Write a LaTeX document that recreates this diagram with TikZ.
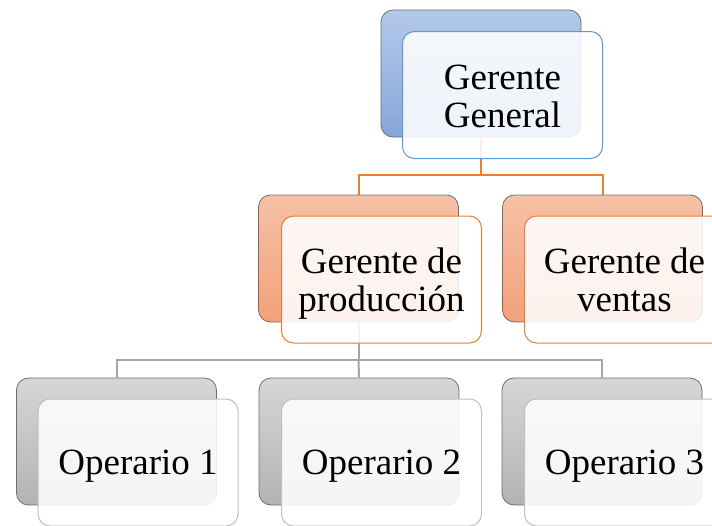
\documentclass[tikz,border=0pt]{standalone}
\usepackage{fontspec}
\setmainfont{Liberation Serif}
\definecolor{blueTop}{HTML}{B3C9EA}
\definecolor{blueBot}{HTML}{86A6DA}
\definecolor{blueLine}{HTML}{5B9BD5}
\definecolor{orTop}{HTML}{F6C1A6}
\definecolor{orBot}{HTML}{F2A07A}
\definecolor{orLine}{HTML}{ED7D31}
\definecolor{grTop}{HTML}{D6D6D6}
\definecolor{grBot}{HTML}{B3B3B3}
\definecolor{grLine}{HTML}{A5A5A5}
\definecolor{frontGray}{HTML}{BFBFBF}
\definecolor{backEdge}{HTML}{6E6E6E}
\begin{document}
\begin{tikzpicture}[x=1pt,y=-1pt,
  box/.style={rounded corners=12pt, minimum width=200pt, minimum height=127pt, inner sep=0pt},
  backbox/.style={box, draw=backEdge, line width=0.8pt},
  bblue/.style={backbox, top color=blueTop, bottom color=blueBot},
  bor/.style={backbox, top color=orTop, bottom color=orBot},
  bgr/.style={backbox, top color=grTop, bottom color=grBot},
  frontbox/.style={box, fill=white, fill opacity=0.87, line width=1pt},
  fblue/.style={frontbox, draw=blueLine},
  forg/.style={frontbox, draw=orLine},
  fgr/.style={frontbox, draw=frontGray},
  txt/.style={align=center, inner sep=0pt, font=\fontsize{37}{38}\selectfont},
  orwire/.style={draw=orLine, line width=2pt},
  grwire/.style={draw=grLine, line width=2pt}]
\useasboundingbox (0,0) rectangle (712,525);
\clip (0,0) rectangle (712,525);
% back boxes
\node[bblue] (gg-b) at (481,73.5) {};
\node[bor] (prod-b) at (358.5,258.5) {};
\node[bor] (ven-b) at (602.5,258.5) {};
\node[bgr] (op1-b) at (116.5,441.5) {};
\node[bgr] (op2-b) at (359,441.5) {};
\node[bgr] (op3-b) at (602,441.5) {};
% connectors
\path (gg-b.south) ++(0,38) coordinate (j1);
\draw[orwire] (gg-b.south) -- (j1) -| (prod-b.north);
\draw[orwire] (j1) -| (ven-b.north);
\path (prod-b.south) ++(0,38) coordinate (j2);
\draw[grwire] (prod-b.south) -- (j2) -| (op1-b.north);
\draw[grwire] (j2) -| (op3-b.north);
\draw[grwire] (j2) -- (op2-b.north);
% front boxes
\node[fblue] (gg) at (502.5,95) {};
\node[forg] (prod) at (381.5,279.5) {};
\node[forg] (ven) at (624.5,279.5) {};
\node[fgr] (op1) at (138,462.5) {};
\node[fgr] (op2) at (381.5,462.5) {};
\node[fgr] (op3) at (624.5,462.5) {};
% texts
\node[txt] (gg-t) at ([yshift=-1pt]gg.center) {Gerente\\General};
\node[txt] (prod-t) at ([yshift=-4pt]prod.center) {Gerente de\\producción};
\node[txt] (ven-t) at ([yshift=0pt]ven.center) {Gerente de\\ventas};
\node[txt] (op1-t) at ([yshift=-4pt]op1.center) {Operario 1};
\node[txt] (op2-t) at ([yshift=-4pt]op2.center) {Operario 2};
\node[txt] (op3-t) at ([yshift=-4pt]op3.center) {Operario 3};
\end{tikzpicture}
\end{document}
